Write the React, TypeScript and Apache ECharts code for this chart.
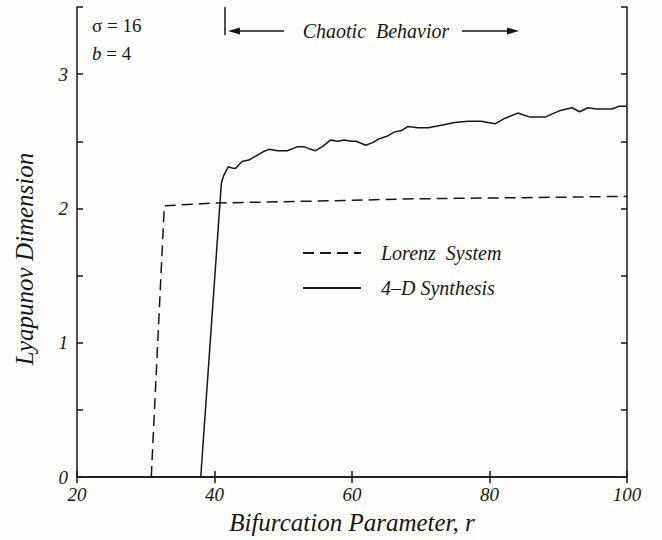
import React, { useEffect, useRef } from "react";
import * as echarts from "echarts";

const lorenzR = [30.8, 32.7, 40, 50, 60, 67, 75, 85, 100];
const lorenzD = [0, 2.02, 2.04, 2.05, 2.06, 2.07, 2.075, 2.08, 2.09];

const synthR = [
  38.0, 41.0, 41.3, 42.0, 42.6, 43.1, 44.0, 45.0, 46.0, 47.0, 47.9, 49.2, 50.6,
  52.1, 53.0, 54.0, 54.7, 55.7, 56.9, 57.9, 58.9, 59.9, 60.6, 62.0, 63.0, 64.0,
  65.2, 66.2, 67.2, 68.1, 69.6, 71.1, 73.0, 74.9, 76.9, 78.8, 80.8, 82.2, 84.1,
  85.9, 88.1, 90.3, 92.0, 93.1, 94.3, 95.6, 97.8, 98.8, 100,
];
const synthD = [
  0, 2.19, 2.24, 2.31, 2.3, 2.3, 2.35, 2.36, 2.39, 2.42, 2.44, 2.43, 2.43,
  2.46, 2.46, 2.44, 2.43, 2.46, 2.51, 2.5, 2.51, 2.5, 2.5, 2.47, 2.49, 2.52,
  2.54, 2.57, 2.58, 2.61, 2.6, 2.6, 2.62, 2.64, 2.65, 2.65, 2.63, 2.67, 2.71,
  2.68, 2.68, 2.73, 2.75, 2.72, 2.75, 2.74, 2.74, 2.76, 2.76,
];

const seriesNames = ["Lorenz  System", "4\u2013D Synthesis"];
const xTitle = "Bifurcation Parameter, r";
const yTitle = "Lyapunov Dimension";

const INK = "#161616";
const FONT = "Liberation Serif";

export default function App() {
  const ref = useRef<HTMLDivElement>(null);
  useEffect(() => {
    if (!ref.current) return;
    const chart = echarts.init(ref.current, undefined, { renderer: "svg" });
    const lorenz = lorenzR.map((r, i) => [r, lorenzD[i]]);
    const synth = synthR.map((r, i) => [r, synthD[i]]);
    const tickLabel = {
      color: INK,
      fontFamily: FONT,
      fontStyle: "italic" as const,
      fontSize: 19,
    };
    const titleStyle = {
      color: INK,
      fontFamily: FONT,
      fontStyle: "italic" as const,
      fontSize: 25,
    };
    const arrowHead = (x: number, y: number, dir: number) => ({
      type: "polygon",
      shape: {
        points: [
          [x, y],
          [x - dir * 12, y - 3.5],
          [x - dir * 12, y + 3.5],
        ],
      },
      style: { fill: INK },
    });
    const axisLineStyle = { lineStyle: { color: INK, width: 1.5 } };
    const tickStyle = { inside: true, length: 6, lineStyle: { color: INK, width: 1.5 } };
    chart.setOption({
      animation: false,
      backgroundColor: "#fefefc",
      grid: { left: 77, right: 35, top: 7, bottom: 59 },
      legend: {
        orient: "vertical",
        left: 297,
        top: 238,
        itemWidth: 58,
        itemHeight: 14,
        itemGap: 15,
        data: seriesNames,
        itemStyle: { opacity: 0 },
        textStyle: {
          color: INK,
          fontFamily: FONT,
          fontStyle: "italic",
          fontSize: 20,
          lineHeight: 20,
          padding: [0, 0, 0, 15],
        },
      },
      xAxis: [
        {
          type: "value",
          position: "bottom",
          min: 20,
          max: 100,
          interval: 20,
          name: xTitle,
          nameLocation: "middle",
          nameGap: 33,
          nameTextStyle: titleStyle,
          axisLine: axisLineStyle,
          axisTick: tickStyle,
          axisLabel: { ...tickLabel, margin: 8 },
          splitLine: { show: false },
        },
        {
          type: "value",
          position: "top",
          min: 20,
          max: 100,
          interval: 20,
          axisLine: axisLineStyle,
          axisTick: tickStyle,
          axisLabel: { show: false },
          splitLine: { show: false },
        },
      ],
      yAxis: [
        {
          type: "value",
          position: "left",
          min: 0,
          max: 3.5,
          interval: 0.5,
          name: yTitle,
          nameLocation: "middle",
          nameGap: 40,
          nameTextStyle: { ...titleStyle, padding: [0, 34, 0, 0] },
          axisLine: axisLineStyle,
          axisTick: tickStyle,
          axisLabel: {
            ...tickLabel,
            margin: 9,
            formatter: (v: number) => (Number.isInteger(v) && v < 3.5 ? String(v) : ""),
          },
          splitLine: { show: false },
        },
        {
          type: "value",
          position: "right",
          min: 0,
          max: 3.5,
          interval: 0.5,
          axisLine: axisLineStyle,
          axisTick: tickStyle,
          axisLabel: { show: false },
          splitLine: { show: false },
        },
      ],
      series: [
        {
          name: seriesNames[0],
          type: "line",
          data: lorenz,
          showSymbol: false,
          symbol: "none",
          lineStyle: { color: INK, width: 1.5, type: [11, 6] },
          itemStyle: { color: INK },
        },
        {
          name: seriesNames[1],
          type: "line",
          data: synth,
          showSymbol: false,
          symbol: "none",
          lineStyle: { color: INK, width: 1.5 },
          itemStyle: { color: INK },
        },
      ],
      graphic: [
        {
          type: "text",
          left: 92,
          top: 16,
          style: { text: "\u03c3 = 16", fill: INK, fontFamily: FONT, fontSize: 19 },
        },
        {
          type: "text",
          left: 92,
          top: 44,
          style: {
            text: "{i|b} = 4",
            fill: INK,
            fontFamily: FONT,
            fontSize: 19,
            rich: { i: { fontStyle: "italic", fontFamily: FONT, fontSize: 19, fill: INK } },
          },
        },
        {
          type: "line",
          shape: { x1: 225, y1: 7, x2: 225, y2: 35 },
          style: { stroke: INK, lineWidth: 1.5 },
        },
        {
          type: "line",
          shape: { x1: 238, y1: 31, x2: 284, y2: 31 },
          style: { stroke: INK, lineWidth: 1.3 },
        },
        arrowHead(228, 31, -1),
        {
          type: "text",
          x: 376,
          y: 31,
          style: {
            text: "Chaotic  Behavior",
            fill: INK,
            fontFamily: FONT,
            fontStyle: "italic",
            fontSize: 20,
            align: "center",
            verticalAlign: "middle",
          },
        },
        {
          type: "line",
          shape: { x1: 462, y1: 31, x2: 508, y2: 31 },
          style: { stroke: INK, lineWidth: 1.3 },
        },
        arrowHead(519, 31, 1),
      ],
    });
    return () => chart.dispose();
  }, []);
  return (
    <div
      ref={ref}
      style={{ position: "fixed", left: 0, top: 0, width: 662, height: 540 }}
    />
  );
}
